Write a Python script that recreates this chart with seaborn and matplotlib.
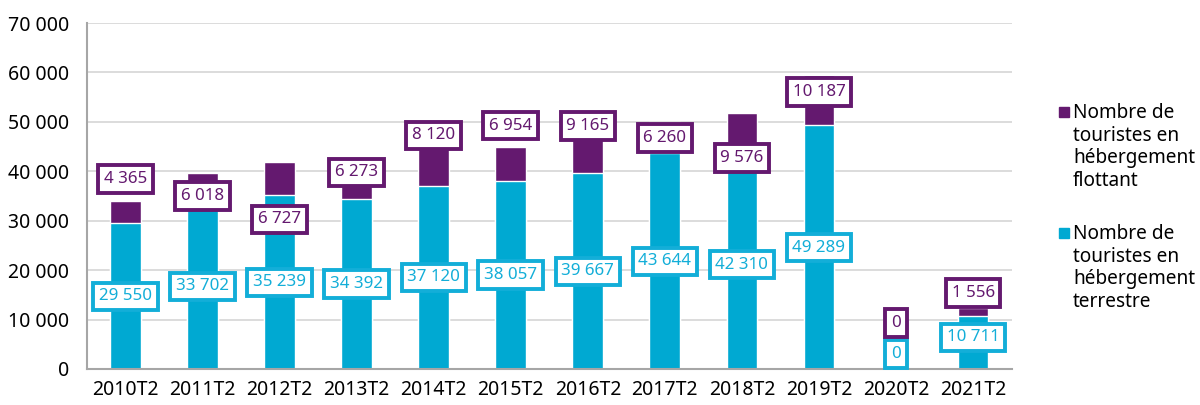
import matplotlib
matplotlib.use("Agg")
import matplotlib.pyplot as plt
import matplotlib.patches as mpatches
from matplotlib.ticker import FuncFormatter, FixedLocator
import numpy as np
import pandas as pd
import seaborn as sns

# donnees
periodes = ['2010T2', '2011T2', '2012T2', '2013T2', '2014T2', '2015T2',
            '2016T2', '2017T2', '2018T2', '2019T2', '2020T2', '2021T2']
terrestre = [29550, 33702, 35239, 34392, 37120, 38057, 39667, 43644, 42310, 49289, 0, 10711]
flottant = [4365, 6018, 6727, 6273, 8120, 6954, 9165, 6260, 9576, 10187, 0, 1556]

# hauteur des etiquettes
pos_lab_flottant = [38440, 35000, 30270, 39790, 47280, 49260, 49200, 46730, 42690, 56040, 9300, 15380]
pos_lab_terrestre = [14670, 16730, 17540, 17200, 18510, 19060, 19770, 21790, 21100, 24580, 3000, 6370]

leg_flottant = 'Nombre de\ntouristes en\nhébergement\nflottant'
leg_terrestre = 'Nombre de\ntouristes en\nhébergement\nterrestre'

violet = '#64196F'
cyan = '#00A9D2'
cyan_txt = '#13AED8'

sns.set_theme(style="white")
plt.rcParams['font.family'] = ['Noto Sans', 'DejaVu Sans']

df = pd.DataFrame({'periode': periodes, 'terrestre': terrestre, 'flottant': flottant})
df['total'] = df['terrestre'] + df['flottant']


def fmt(v):
    return f"{int(round(v)):,}".replace(",", " ")


fig = plt.figure(figsize=(12, 4.05), dpi=100)
ax = fig.add_axes([0.0725, 0.089, 0.7705, 0.854])

sns.barplot(data=df, x='periode', y='total', color=violet, width=0.4, saturation=1, ax=ax)
sns.barplot(data=df, x='periode', y='terrestre', color=cyan, width=0.4, saturation=1, ax=ax)

ax.set_ylim(0, 70000)
ax.set_xlim(-0.5, len(periodes) - 0.5)
ax.set_yticks(np.arange(0, 70001, 10000))
ax.yaxis.set_major_formatter(FuncFormatter(lambda v, p: fmt(v)))
ax.grid(axis='y', color='#D9D9D9', lw=1.3)
ax.set_axisbelow(True)
ax.set_xlabel('')
ax.set_ylabel('')

for s in ['top', 'right']:
    ax.spines[s].set_visible(False)
for s in ['left', 'bottom']:
    ax.spines[s].set_color('#A6A6A6')
    ax.spines[s].set_linewidth(1.5)

ax.tick_params(axis='y', length=5, width=1.2, color='#A6A6A6', pad=8, labelsize=14, labelcolor='black')
ax.tick_params(axis='x', which='major', length=0, pad=8, labelsize=14, labelcolor='black')
ax.xaxis.set_minor_locator(FixedLocator(np.arange(-0.5, len(periodes), 1)))
ax.tick_params(axis='x', which='minor', length=6, width=1.2, color='#A6A6A6')

# etiquettes
for i in range(len(periodes)):
    ax.text(i, pos_lab_terrestre[i], fmt(terrestre[i]), ha='center', va='center',
            fontsize=12.2, color=cyan_txt,
            bbox=dict(boxstyle='square,pad=0.34', fc='white', ec=cyan_txt, lw=2.8))
    ax.text(i, pos_lab_flottant[i], fmt(flottant[i]), ha='center', va='center',
            fontsize=12.2, color=violet,
            bbox=dict(boxstyle='square,pad=0.34', fc='white', ec=violet, lw=2.8))

# legende
for y0, col, txt in [(107, violet, leg_flottant), (228, cyan, leg_terrestre)]:
    fig.add_artist(mpatches.Rectangle((1059 / 1200, 1 - (y0 + 10) / 405), 10 / 1200, 10 / 405,
                                      transform=fig.transFigure, color=col))
    fig.text(1073 / 1200, 1 - (y0 - 4) / 405, txt, ha='left', va='top', fontsize=13.7,
             color='black', linespacing=1.17)

fig.savefig('out.png', dpi=100)
